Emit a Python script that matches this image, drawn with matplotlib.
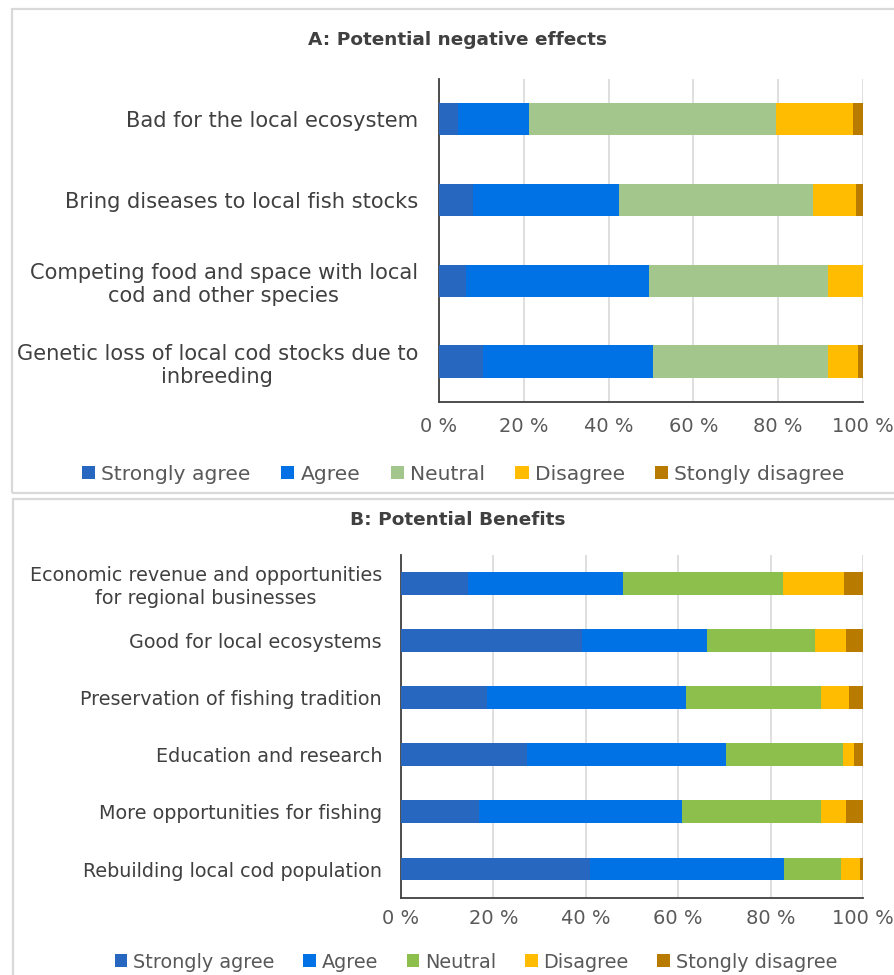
import matplotlib
matplotlib.use("Agg")
import matplotlib.pyplot as plt
from matplotlib.patches import Rectangle, Patch

W, H = 895, 975
DPI = 100

levels = ["Strongly agree", "Agree", "Neutral", "Disagree", "Stongly disagree"]

cats_a = [
    "Bad for the local ecosystem",
    "Bring diseases to local fish stocks",
    "Competing food and space with local\ncod and other species",
    "Genetic loss of local cod stocks due to\ninbreeding",
]
strongly_agree_a = [4.5, 8.1, 6.3, 10.4]
agree_a = [16.7, 34.3, 43.2, 40.1]
neutral_a = [58.2, 45.8, 42.2, 41.2]
disagree_a = [18.3, 10.1, 8.3, 7.1]
strongly_disagree_a = [2.3, 1.7, 0.0, 1.2]

cats_b = [
    "Economic revenue and opportunities\nfor regional businesses",
    "Good for local ecosystems",
    "Preservation of fishing tradition",
    "Education and research",
    "More opportunities for fishing",
    "Rebuilding local cod population",
]
strongly_agree_b = [14.4, 39.2, 18.7, 27.3, 16.9, 41.0]
agree_b = [33.6, 27.1, 42.9, 43.1, 44.0, 41.8]
neutral_b = [34.7, 23.4, 29.4, 25.2, 30.1, 12.4]
disagree_b = [13.1, 6.6, 6.0, 2.4, 5.3, 4.1]
strongly_disagree_b = [4.2, 3.7, 3.0, 2.0, 3.7, 0.7]

ticks = [0, 20, 40, 60, 80, 100]
tick_labels = ["0 %", "20 %", "40 %", "60 %", "80 %", "100 %"]

colors_a = ["#2867BF", "#0072E6", "#A3C68D", "#FFBC00", "#B87B00"]
colors_b = ["#2867BF", "#0072E6", "#8CBF4B", "#FFBC00", "#B87B00"]

TXT = "#595959"
FONT = "DejaVu Sans"

fig = plt.figure(figsize=(W / DPI, H / DPI), dpi=DPI)


def fx(px):
    return px / W


def fy(py):
    return 1 - py / H


PT = 72.0 / DPI  # points per pixel

# panel boxes
for (x0, y0, x1, y1) in [(12, 9, 910, 492.5), (13, 499, 910, 990)]:
    fig.patches.append(Rectangle((fx(x0), fy(y1)), fx(x1 - x0), (y1 - y0) / H,
                                 transform=fig.transFigure, fill=False,
                                 edgecolor="#D9D9D9", linewidth=1.6, zorder=0))


def panel(left, right, top, bottom, cats, series, colors, title, title_y,
          tick_pad_px, legend_y, legend_x, legend_size, cat_size, cat_pad_px):
    ax = fig.add_axes([fx(left), fy(bottom), fx(right - left), (bottom - top) / H])
    n = len(cats)
    ys = list(range(n))
    cum = [0.0] * n
    for vals, col, lab in zip(series, colors, levels):
        ax.barh(ys, vals, left=cum, height=0.4, color=col, label=lab, zorder=3)
        cum = [c + v for c, v in zip(cum, vals)]
    ax.set_xlim(0, 100)
    ax.set_ylim(n - 0.5, -0.5)
    ax.set_xticks(ticks)
    ax.set_xticklabels(tick_labels, fontsize=14, color=TXT, family=FONT)
    ax.set_yticks(ys)
    ax.set_yticklabels(cats, fontsize=cat_size, color="#404040", family=FONT,
                       multialignment="center", linespacing=1.22)
    ax.tick_params(axis="both", length=0)
    ax.tick_params(axis="x", pad=tick_pad_px * PT)
    ax.tick_params(axis="y", pad=cat_pad_px * PT)
    ax.grid(axis="x", color="#D9D9D9", linewidth=1.2, zorder=0)
    for s in ["top", "right"]:
        ax.spines[s].set_visible(False)
    ax.spines["left"].set_color("#404040")
    ax.spines["left"].set_linewidth(1.3)
    ax.spines["bottom"].set_color("#404040")
    ax.spines["bottom"].set_linewidth(1.3)
    fig.text(fx(458), fy(title_y), title, ha="center", va="center",
             fontsize=13.3, fontweight="bold", color="#404040", family=FONT)
    handles = [Patch(facecolor=c, label=l) for c, l in zip(colors, levels)]
    fig.legend(handles=handles, loc="center", bbox_to_anchor=(fx(legend_x), fy(legend_y)),
               ncol=5, frameon=False, prop={"family": FONT, "size": legend_size},
               labelcolor=TXT, handlelength=0.65, handleheight=0.65,
               handletextpad=0.3, columnspacing=1.5, borderpad=0.0)
    return ax


ax_a = panel(439, 863, 78.5, 402, cats_a,
             [strongly_agree_a, agree_a, neutral_a, disagree_a, strongly_disagree_a],
             colors_a, "A: Potential negative effects", 40, 15, 474, 463.5, 14.6, 15.1, 21)
ax_b = panel(401, 863, 554.7, 897.6, cats_b,
             [strongly_agree_b, agree_b, neutral_b, disagree_b, strongly_disagree_b],
             colors_b, "B: Potential Benefits", 520, 11, 962, 476, 13.85, 13.8, 19)

fig.savefig("out.png", dpi=DPI)
